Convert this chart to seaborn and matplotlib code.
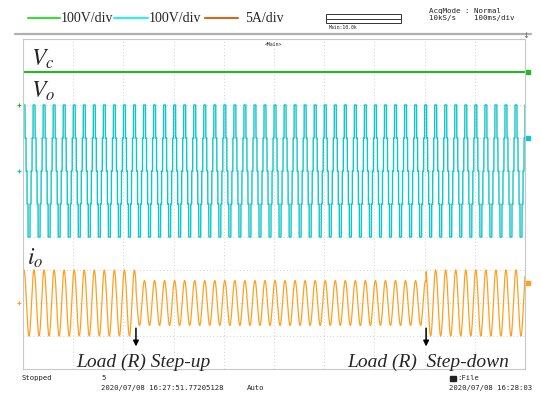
import numpy as np
import matplotlib
matplotlib.use("Agg")
import matplotlib.pyplot as plt
import seaborn as sns
from matplotlib.lines import Line2D
from matplotlib.patches import Rectangle

# scope settings
time_per_div = 0.1   # s/div (100ms/div)
vc_per_div = 100     # V/div
vo_per_div = 100     # V/div
io_per_div = 5       # A/div
n_div = 10

# zero line of each trace, in divisions from the bottom
vc_zero_div = 8
vo_zero_div = 6
io_zero_div = 2

# capacitor voltage
vc_level = 100  # V

# five-level output voltage, one fundamental period
fund_hz = 50
vo_switch_deg = [0, 18, 54, 126, 162, 198, 234, 306, 342, 360]
vo_step_volts = [0, 100, 200, 100, 0, -100, -200, -100, 0]
first_peak_s = 0.002

# load current, resistive load stepped twice
load_edges_s = [0.0, 0.225, 0.803, 1.0]
io_peak_amps = [5.0, 3.4, 5.0]

# end-of-trace markers on the right (Vc V, Vo V, io A)
end_marks = [100, 100, 3.0]

legend_labels = ["100V/div", "100V/div", "5A/div"]
event_labels = ["Load (R) Step-up", "Load (R)  Step-down"]

c_vc, c_vo, c_io = "#22b822", "#0fc6ca", "#ffa020"
leg_colors = ["#3ade3a", "#2af0f0", "#d2691e"]

sns.set_style("white")
plt.rcParams["mathtext.fontset"] = "stix"

# build the traces
t = np.linspace(0, n_div * time_per_div, 40001)
phase = ((t - first_peak_s) * fund_hz * 360 + 90) % 360
idx = np.searchsorted(vo_switch_deg, phase, side="right") - 1
vo = np.array(vo_step_volts)[idx]
seg = np.clip(np.searchsorted(load_edges_s, t, side="right") - 1, 0, len(io_peak_amps) - 1)
io = np.array(io_peak_amps)[seg] * np.sin(np.deg2rad(phase))
vc = np.full_like(t, vc_level, dtype=float)

fig = plt.figure(figsize=(5.41, 3.94), dpi=100)
W, H = 541, 394
ax = fig.add_axes([23 / W, 25 / H, 502 / W, 330 / H])

sns.lineplot(x=t, y=vc_zero_div + vc / vc_per_div, ax=ax, color=c_vc, linewidth=1.5,
             estimator=None, sort=False)
sns.lineplot(x=t, y=vo_zero_div + vo / vo_per_div, ax=ax, color=c_vo, linewidth=1.0,
             estimator=None, sort=False)
sns.lineplot(x=t, y=io_zero_div + io / io_per_div, ax=ax, color=c_io, linewidth=0.9,
             estimator=None, sort=False)

ax.set_xlim(0, n_div * time_per_div)
ax.set_ylim(0, 10)
ax.set_xticks(np.arange(n_div + 1) * time_per_div)
ax.set_yticks(np.arange(11))
ax.tick_params(length=0, labelbottom=False, labelleft=False)
ax.grid(True, color="#c4c4c4", linestyle=(0, (1, 3)), linewidth=0.6)
for s in ax.spines.values():
    s.set_color("#c8c8c8")
    s.set_linewidth(0.8)

# ground markers on the left, end markers on the right
zeros = [vc_zero_div, vo_zero_div, io_zero_div]
scales = [vc_per_div, vo_per_div, io_per_div]
for z, col in zip(zeros, [c_vc, c_vo, c_io]):
    ax.plot([-0.008], [z], marker="+", ms=3, mew=0.8, color=col, clip_on=False)
for z, m, sc, col in zip(zeros, end_marks, scales, [c_vc, c_vo, c_io]):
    ax.plot([1.006], [z + m / sc], marker="s", ms=2.2, color=col, clip_on=False)

# trace names
fig.text(31 / W, 1 - 66 / H, r"$V_c$", fontsize=17, va="baseline")
fig.text(31 / W, 1 - 98 / H, r"$V_o$", fontsize=17, va="baseline")
fig.text(27 / W, 1 - 265 / H, r"$i_o$", fontsize=17, va="baseline")

# load step arrows and labels
for x0 in load_edges_s[1:3]:
    ax.annotate("", xy=(x0, 0.6), xytext=(x0, 1.32),
                arrowprops=dict(arrowstyle="-|>", color="black", lw=1.1, mutation_scale=8))
fig.text(76 / W, 1 - 367 / H, event_labels[0], fontsize=14, style="italic",
         family="Liberation Serif", va="baseline")
fig.text(347 / W, 1 - 367 / H, event_labels[1], fontsize=14, style="italic",
         family="Liberation Serif", va="baseline")

# header: channel legend
leg_x = [(28, 60, 61), (114, 148, 149), (205, 238, 245)]
for (x1, x2, xt), col, lab in zip(leg_x, leg_colors, legend_labels):
    fig.add_artist(Line2D([x1 / W, x2 / W], [1 - 18 / H] * 2, color=col, lw=1.5))
    fig.text(xt / W, 1 - 18 / H, lab, fontsize=10, family="Liberation Serif", va="center")

# header: zoom box and acquisition info
fig.add_artist(Rectangle((326 / W, 1 - 23 / H), 75 / W, 9 / H, fill=False,
                         edgecolor="#333333", lw=0.7))
fig.add_artist(Line2D([326 / W, 401 / W], [1 - 18.5 / H] * 2, color="#333333", lw=0.7))
mono = dict(family="DejaVu Sans Mono", color="#222222")
fig.text(329 / W, 1 - 27.5 / H, "Main:10.0k", fontsize=3.5, va="center", **mono)
fig.text(429 / W, 1 - 10.5 / H, "AcqMode : Normal", fontsize=5.4, va="center", **mono)
fig.text(429 / W, 1 - 18 / H, "10kS/s    100ms/div", fontsize=5.4, va="center", **mono)
fig.text(265 / W, 1 - 45 / H, "<Main>", fontsize=3.5, va="center", **mono)
fig.add_artist(Line2D([15 / W, 531 / W], [1 - 34 / H] * 2, color="#b0b0b0", lw=1.6))
fig.text(525.5 / W, 1 - 35 / H, "\u2193", fontsize=6, ha="center", va="center", color="#666666")

# footer
fig.text(21 / W, 1 - 378 / H, "Stopped", fontsize=5.2, va="center", **mono)
fig.text(101 / W, 1 - 378 / H, "5", fontsize=5.2, va="center", **mono)
fig.text(101 / W, 1 - 388 / H, "2020/07/08 16:27:51.77205128", fontsize=5.2, va="center", **mono)
fig.text(247 / W, 1 - 388 / H, "Auto", fontsize=5.2, va="center", **mono)
fig.add_artist(Rectangle((450 / W, 1 - 381 / H), 6 / W, 5 / H, color="#222222"))
fig.text(457 / W, 1 - 378 / H, ":File", fontsize=5.2, va="center", **mono)
fig.text(449 / W, 1 - 388 / H, "2020/07/08 16:28:03", fontsize=5.2, va="center", **mono)

fig.savefig("out.png", dpi=100)
